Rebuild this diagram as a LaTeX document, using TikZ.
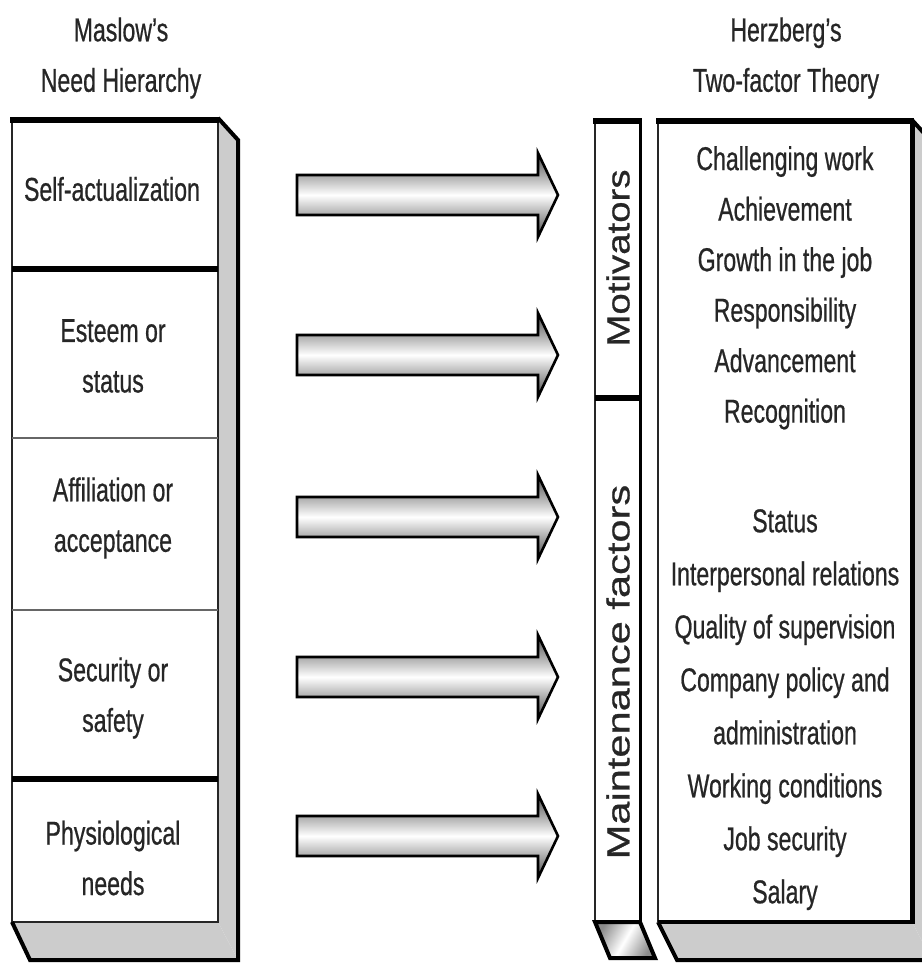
\documentclass[tikz,border=0pt]{standalone}
\usepackage{fontspec}
\setmainfont{Liberation Sans}[FakeStretch=0.7, FakeBold=0.6]
\newfontfamily\sidefont{Liberation Sans}[FakeBold=0.6]
\begin{document}
\begin{tikzpicture}[x=1pt,y=-1pt,
  face/.style={fill=white},
  sideface/.style={fill=black!20},
  thinedge/.style={line width=2.4pt, black!85},
  thickedge/.style={line width=5.5pt, black},
  midedge/.style={line width=4pt, black},
  txt/.style={font=\fontsize{33}{50.5}\selectfont, text=black!85, align=center, inner sep=0pt},
  widetxt/.style={txt, font=\fontsize{33}{53}\selectfont},
  sidetxt/.style={font=\sidefont\fontsize{32}{40}\selectfont, text=black!85, inner sep=0pt, rotate=90},
  blockarrow/.style={draw=black, line width=2.6pt, line join=miter,
    top color=black!70, bottom color=black!70, middle color=white}
]
\useasboundingbox (0,0) rectangle (921,963);

% ---------- left block: need hierarchy ----------
\fill[sideface] (218,118) -- (238,140) -- (238,960) -- (218,922) -- cycle;
\fill[sideface] (12,922) -- (218,922) -- (238,960) -- (30,960) -- cycle;
\fill[face] (12,118) rectangle (218,922);
\draw[thinedge] (12,118) -- (12,922) -- (218,922) -- (218,118);
\draw[midedge] (218,118) -- (238,140) -- (238,960) -- (30,960) -- (12,922);
\draw[thickedge] (10,120) -- (219,120);
\draw[thickedge] (12,269) -- (218,269);
\draw[line width=2pt, black!60] (12,438) -- (218,438);
\draw[line width=2pt, black!60] (12,610) -- (218,610);
\draw[thickedge] (12,779) -- (218,779);

\node[txt] (maslow) at (121,58) {Maslow's\\Need Hierarchy};
\node[txt] (n1) at (112,189) {Self-actualization};
\node[txt] (n2) at (113,356) {Esteem or\\status};
\node[txt] (n3) at (113,518) {Affiliation or\\acceptance};
\node[txt] (n4) at (113,698) {Security or\\safety};
\node[txt] (n5) at (113,858) {Physiological\\needs};

% ---------- block arrows ----------
\foreach \yc in {195,355,517,677,836}{
  \path[blockarrow] (297,\yc-20) -- (538,\yc-20) -- (538,\yc-42) -- (558,\yc)
    -- (538,\yc+42) -- (538,\yc+20) -- (297,\yc+20) -- cycle;
}

% ---------- middle column: factor groups ----------
\shade[left color=black!45, right color=black!45, middle color=white, shading angle=60]
  (595,922) -- (640,922) -- (655,958) -- (610,958) -- cycle;
\fill[face] (595,120) rectangle (640,922);
\draw[thinedge] (595,120) -- (595,922);
\draw[line width=3pt] (640,120) -- (640,922);
\draw[midedge] (595,922) -- (640,922) -- (655,958) -- (610,958) -- cycle;
\draw[thickedge] (593,121) -- (642,121);
\draw[thickedge] (595,398) -- (640,398);

\node[sidetxt] (mot) at (618,258) {\scalebox{1.2}[1]{Motivators}};
\node[sidetxt] (mnt) at (618,672) {\scalebox{1.3}[1]{Maintenance factors}};

% ---------- right block: two-factor theory ----------
\fill[sideface] (912,120) -- (932,142) -- (932,960) -- (912,922) -- cycle;
\fill[sideface] (658,922) -- (912,922) -- (932,960) -- (677,960) -- cycle;
\fill[face] (658,120) rectangle (912,922);
\draw[thinedge] (658,120) -- (658,922);
\draw[line width=3.5pt] (658,922) -- (912,922);
\draw[line width=5pt] (912,120) -- (912,924);
\draw[midedge] (912,120) -- (932,142);
\draw[midedge] (658,922) -- (677,960) -- (932,960);
\draw[thickedge] (656,121) -- (914,121);

\node[txt] (herz) at (786,58) {Herzberg's\\Two-factor Theory};
\node[txt, anchor=north] (motlist) at (785,146)
  {Challenging work\\Achievement\\Growth in the job\\Responsibility\\Advancement\\Recognition};
\node[widetxt, anchor=north] (mntlist) at (785,509)
  {Status\\Interpersonal relations\\Quality of supervision\\Company policy and\\administration\\Working conditions\\Job security\\Salary};
\end{tikzpicture}
\end{document}
